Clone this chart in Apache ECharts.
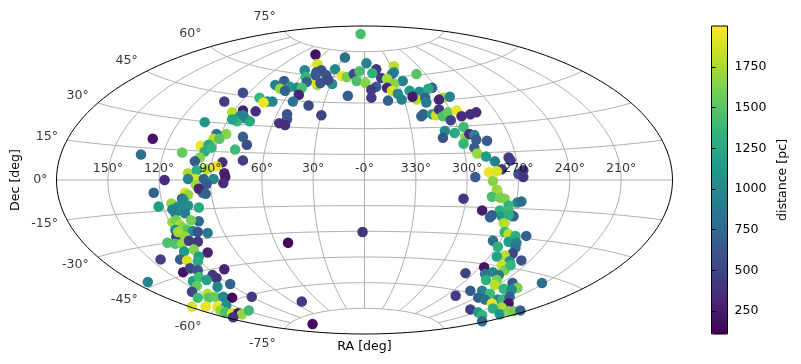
<!DOCTYPE html>
<html><head><meta charset="utf-8">
<style>html,body{margin:0;padding:0;background:#fff}#c{width:801px;height:364px}</style>
<script src="https://cdn.jsdelivr.net/npm/echarts@6/dist/echarts.min.js"></script>
</head><body><div id="c"></div>
<script>
// Readings on the Aitoff plane: [x, y, distance], x and y in 0.01 rad, distance in pc.
const northWest=[[-124,89,550],[-143,80,450],[-107,84,1350],[-135,69,1800],[-124,71,300],[-111,70,350],[-127,65,1050],[-122,63,1000],[-130,60,1350],[-117,60,1250],[-135,62,1200],[-124,66,950],[-163,59,1100],[-141,47,1650],[-151,47,850],[-124,44,700],[-120,36,550],[-154,42,1800],[-148,42,1500],[-167,35,1950],[-159,36,1250],[-163,29,1300],[-156,33,1350],[-132,31,1400],[-186,28,1550],[-168,23,1650],[-216,42,200],[-228,26,800],[-173,19,650],[-145,18,350],[-124,20,450],[-151,14,1950],[-161,11,1800],[-180,7,1750],[-171,10,1300],[-143,7,300],[-142,3,250],[-204,0,350],[-173,1,1900],[-180,1,950],[-164,1,700],[-154,1,1000]];
const southWest=[[-172,-5,1700],[-161,-4,650],[-144,-3,350],[-215,-13,700],[-183,-13,1900],[-180,-15,1700],[-186,-19,500],[-165,-13,850],[-169,-9,300],[-162,-14,700],[-210,-27,1150],[-197,-24,1700],[-186,-24,1000],[-180,-26,1050],[-169,-28,1250],[-190,-27,1000],[-185,-20,1000],[-196,-30,950],[-193,-34,950],[-183,-34,900],[-169,-42,750],[-177,-41,1600],[-196,-43,1700],[-192,-41,1600],[-188,-46,1750],[-193,-51,1050],[-185,-49,1650],[-181,-51,1500],[-175,-52,1050],[-170,-53,600],[-160,-54,850],[-192,-58,500],[-190,-53,1750],[-183,-58,1700],[-201,-64,1450],[-193,-65,1450],[-186,-65,1700],[-179,-62,450],[-170,-63,400],[-174,-71,1650],[-184,-73,1150],[-160,-74,300],[-169,-78,1150],[-208,-81,450],[-188,-81,650],[-181,-82,1900],[-170,-83,1250],[-185,-94,200],[-178,-90,500],[-170,-92,600],[-143,-91,300],[-155,-97,400],[-151,-100,400],[-175,-103,1150],[-169,-99,1400],[-161,-102,1200],[-221,-104,950],[-137,-106,700],[-171,-108,1550],[-150,-109,1000],[-176,-114,500],[-160,-116,1800],[-170,-120,1400],[-159,-120,1500],[-152,-119,1550],[-144,-119,1000],[-135,-120,150],[-115,-119,450],[-150,-129,1950],[-162,-129,1950],[-176,-129,1900],[-141,-128,1050],[-147,-133,1700],[-142,-135,1450],[-135,-136,1900],[-129,-136,200],[-125,-137,1700],[-118,-133,1400],[-134,-140,400]];
const isolated=[[-78,-64,130],[-53,-147,150],[-64,-124,450],[-2,-53,400]];
const topArcWest=[[-4,149,1450],[-50,128,200],[-20,125,800],[-48,118,1900],[-61,112,1000],[-30,113,1000],[-48,97,1700],[-50,100,1900],[-49,110,600],[-44,112,600],[-50,107,650],[-39,107,600],[-60,105,1350],[-59,100,700],[-23,106,1950],[-18,105,1600],[-11,108,550],[-5,111,1450],[2,119,950],[-8,101,1450],[1,99,1650],[-33,98,1050],[-45,99,600],[-37,102,550],[-82,101,650],[-91,97,900],[-76,95,1150],[-69,94,1000],[-64,94,1450],[-86,93,1700],[-81,91,700],[-67,87,300],[-73,80,850],[-94,80,950],[-99,80,1000],[-103,79,1950],[-17,86,650],[-57,76,550],[-44,66,500],[-79,67,600],[-79,62,600],[-87,58,400],[-81,56,350]];
const topArcEast=[[12,113,400],[8,109,1300],[30,116,1800],[30,110,1000],[28,108,850],[17,104,450],[23,103,1750],[39,101,950],[53,108,1500],[12,95,650],[7,92,450],[7,84,450],[30,98,1650],[23,94,300],[28,91,1900],[24,81,700],[34,88,1000],[38,82,950],[46,91,1150],[56,90,1000],[69,94,750],[65,93,1250],[53,82,1800],[49,85,250],[62,84,700],[63,79,900],[80,84,1750],[76,82,300],[87,85,950],[60,67,700],[58,65,700],[69,67,1100],[73,66,1850],[76,72,400],[80,65,1450],[85,69,1550],[94,71,1950],[88,61,500],[99,65,350],[108,67,350],[114,69,350]];
const northEast=[[82,50,1000],[101,54,1400],[80,43,600],[92,48,1250],[103,44,1650],[107,47,350],[112,46,950],[114,41,650],[101,37,1350],[125,40,650],[112,33,650],[115,27,1700],[124,24,1150],[133,19,950],[147,23,450],[149,20,450],[140,11,400],[127,8,1950],[135,9,1900],[157,6,600],[162,10,400],[162,3,400],[113,3,650]];
const southEast=[[131,-1,1650],[135,-10,1700],[136,-14,1750],[130,-17,1450],[143,-19,1650],[138,-18,1600],[101,-19,400],[156,-23,1000],[160,-22,800],[147,-26,1350],[120,-31,250],[138,-31,1300],[130,-36,650],[128,-38,700],[140,-37,1100],[147,-32,1400],[152,-37,700],[147,-36,1300],[142,-44,1800],[143,-53,1350],[147,-55,1800],[154,-57,1300],[165,-57,700],[131,-62,800],[147,-63,1150],[155,-64,950],[136,-68,1300],[154,-69,850],[151,-75,500],[143,-77,1800],[135,-78,1200],[160,-82,600],[148,-83,1050],[140,-87,1850],[122,-89,200],[143,-92,1600],[149,-87,1350],[103,-95,500],[131,-94,1000],[137,-97,850],[123,-96,850],[124,-102,1300],[135,-102,1600],[151,-105,650],[181,-105,800],[133,-107,1800],[156,-110,1600],[142,-111,1350],[150,-112,1000],[108,-113,650],[120,-113,950],[128,-116,1400],[93,-118,450],[116,-120,700],[136,-122,1000],[141,-122,1350],[123,-122,800],[148,-119,650],[147,-126,200],[130,-126,1950],[140,-130,1750],[131,-131,1300],[108,-132,450],[116,-135,1150],[120,-138,1350],[138,-137,1100],[147,-134,1650],[152,-134,1600],[159,-133,700],[120,-144,750]];

const raLon=[-150,-120,-90,-60,-30,0,30,60,90,120,150];
const raLabels=['150°','120°','90°','60°','30°','-0°','330°','300°','270°','240°','210°'];
const decTicks=[-75,-60,-45,-30,-15,0,15,30,45,60,75];
const colorbarTicks=[250,500,750,1000,1250,1500,1750];
const distanceMin=109, distanceMax=2002;
const viridis=['#440154','#482878','#3e4989','#31688e','#26828e','#1f9e89','#35b779','#6ece58','#b5de2b','#fde725'];

const points=[...northWest,...southWest,...isolated,...topArcWest,...topArcEast,...northEast,...southEast];
const R=Math.PI/180;
function aitoff(lon,lat){
  const l=lon*R, p=lat*R, a=Math.acos(Math.cos(p)*Math.cos(l/2));
  const s=a<1e-9?1:Math.sin(a)/a;
  return [200*Math.cos(p)*Math.sin(l/2)/s, 100*Math.sin(p)/s];
}
const FONT='DejaVu Sans', FS=12.6;
const gridStyle={color:'#b0b0b0',width:1};
function curve(pts,style){return {type:'line',xAxisIndex:0,yAxisIndex:0,data:pts,showSymbol:false,silent:true,lineStyle:style,z:1,clip:false,animation:false};}
const series=[];
decTicks.forEach(d=>{const a=[];for(let l=-180;l<=180;l+=3)a.push(aitoff(l,d));series.push(curve(a,gridStyle));});
raLon.forEach(l=>{const a=[];for(let d=-75;d<=75;d+=3)a.push(aitoff(l,d));series.push(curve(a,gridStyle));});
const scatterIndex=series.length;
series.push({type:'scatter',xAxisIndex:0,yAxisIndex:0,data:points,symbolSize:10.5,itemStyle:{opacity:1,borderWidth:0},z:3,clip:false,silent:true,encode:{x:0,y:1}});
const frame=[];
for(let d=-90;d<=90;d+=2)frame.push(aitoff(-180,d));
for(let d=90;d>=-90;d-=2)frame.push(aitoff(180,d));
frame.push(frame[0]);
const fr=curve(frame,{color:'#000',width:1});fr.z=4;series.push(fr);
series.push({type:'scatter',xAxisIndex:0,yAxisIndex:0,symbolSize:0,silent:true,z:5,clip:false,
  data:raLon.map((l,i)=>({value:aitoff(l,0),name:raLabels[i]})),
  label:{show:true,position:'top',distance:5,formatter:'{b}',color:'#000',fontFamily:FONT,fontSize:FS}});
series.push({type:'scatter',xAxisIndex:0,yAxisIndex:0,symbolSize:0,silent:true,z:5,clip:false,
  data:decTicks.map(d=>({value:aitoff(-180,d),name:d+'°',label:{offset:[0,-15*Math.sin(d*R)]}})),
  label:{show:true,position:'left',distance:9,formatter:'{b}',color:'#000',fontFamily:FONT,fontSize:FS}});
// colour bar outline
series.push({type:'line',xAxisIndex:1,yAxisIndex:1,showSymbol:false,silent:true,z:6,clip:false,
  data:[[0,distanceMin],[1,distanceMin],[1,distanceMax],[0,distanceMax],[0,distanceMin]],
  lineStyle:{color:'#000',width:1}});

const nameStyle={color:'#000',fontFamily:FONT,fontSize:FS};
const chart=echarts.init(document.getElementById('c'),null,{renderer:'canvas'});
chart.setOption({
  animation:false,backgroundColor:'#fff',
  grid:[{left:56.5,top:26,width:616,height:308,show:false,outerBoundsMode:'none'},
        {left:711.5,top:26,width:16,height:308,show:false,outerBoundsMode:'none'}],
  xAxis:[{type:'value',gridIndex:0,min:-Math.PI*100,max:Math.PI*100,axisLine:{show:false},axisTick:{show:false},axisLabel:{show:false},splitLine:{show:false},
          name:'RA [deg]',nameLocation:'middle',nameGap:6,nameTextStyle:nameStyle},
         {type:'value',gridIndex:1,min:0,max:1,show:false}],
  yAxis:[{type:'value',gridIndex:0,min:-Math.PI*50,max:Math.PI*50,axisLine:{show:false},axisTick:{show:false},axisLabel:{show:false},splitLine:{show:false},
          name:'Dec [deg]',nameLocation:'middle',nameGap:34,nameRotate:90,nameTextStyle:nameStyle},
         {type:'value',gridIndex:1,min:distanceMin,max:distanceMax,position:'right',z:6,
          axisLine:{show:false},splitLine:{show:false},
          axisTick:{show:true,length:4,inside:false,customValues:colorbarTicks,lineStyle:{color:'#000',width:1}},
          axisLabel:{show:true,margin:7,customValues:colorbarTicks,formatter:v=>String(v),color:'#000',fontFamily:FONT,fontSize:FS},
          name:'distance [pc]',nameLocation:'middle',nameGap:49,nameRotate:90,nameTextStyle:nameStyle}],
  visualMap:{type:'continuous',seriesIndex:scatterIndex,dimension:2,min:distanceMin,max:distanceMax,calculable:false,
    left:711.5,top:26,itemWidth:16,itemHeight:308,padding:0,borderWidth:0,text:null,showLabel:false,hoverLink:false,z:1,
    inRange:{color:viridis}},
  series
});
</script></body></html>
